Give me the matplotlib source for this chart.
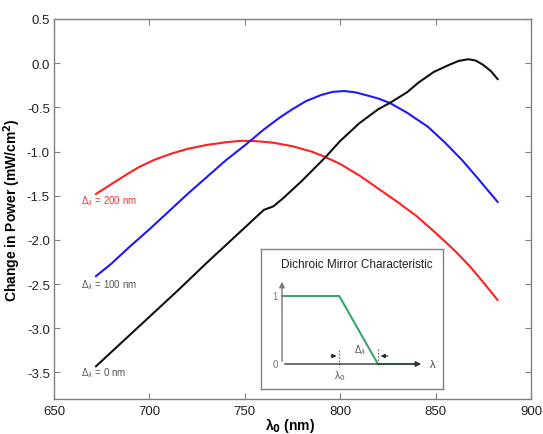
import matplotlib
matplotlib.use("Agg")
import matplotlib.pyplot as plt

# Data
wl_black = [672, 685, 700, 715, 730, 747, 760, 765, 770, 780, 792, 800, 810, 820, 826, 835, 841, 849, 857, 862, 867, 871, 875, 879, 882.5]
pw_black = [-3.43, -3.17, -2.87, -2.57, -2.26, -1.92, -1.66, -1.62, -1.53, -1.33, -1.07, -0.88, -0.68, -0.52, -0.45, -0.33, -0.22, -0.1, -0.02, 0.025, 0.045, 0.03, -0.02, -0.09, -0.18]

wl_blue = [672, 680, 690, 700, 710, 720, 730, 740, 750, 760, 768, 775, 782, 790, 796, 802, 808, 815, 820, 826, 835, 846, 855, 864, 872, 882.5]
pw_blue = [-2.41, -2.27, -2.07, -1.88, -1.68, -1.48, -1.29, -1.10, -0.93, -0.75, -0.62, -0.52, -0.43, -0.36, -0.325, -0.315, -0.33, -0.37, -0.40, -0.45, -0.56, -0.72, -0.90, -1.10, -1.30, -1.57]

wl_red = [672, 680, 688, 695, 703, 712, 720, 730, 740, 748, 756, 765, 775, 785, 792, 800, 810, 820, 830, 840, 850, 860, 868, 875, 882.5]
pw_red = [-1.48, -1.37, -1.26, -1.17, -1.09, -1.02, -0.97, -0.925, -0.895, -0.878, -0.882, -0.90, -0.94, -1.0, -1.06, -1.14, -1.27, -1.42, -1.57, -1.73, -1.92, -2.12, -2.30, -2.48, -2.68]

labels = ["= 200 nm", "= 100 nm", "= 0 nm"]
xticks = [650, 700, 750, 800, 850, 900]
yticks = [0.5, 0.0, -0.5, -1.0, -1.5, -2.0, -2.5, -3.0, -3.5]

# inset characteristic (schematic)
ins_x = [0.0, 0.4, 0.67, 0.95]
ins_y = [1.0, 1.0, 0.0, 0.0]

W, H = 543, 435
fig = plt.figure(figsize=(W / 100, H / 100), dpi=100)
plt.rcParams['font.family'] = ['Liberation Sans', 'DejaVu Sans']

def fx(px):
    return px / W

def fy(py):
    return 1 - py / H

L, R, T, B = 54, 531, 20, 400
ax = fig.add_axes([fx(L), fy(B), fx(R) - fx(L), fy(T) - fy(B)])
ax.plot(wl_red, pw_red, color='#ff2020', lw=1.5)
ax.plot(wl_blue, pw_blue, color='#1a1aff', lw=1.5)
ax.plot(wl_black, pw_black, color='#111111', lw=1.5)
ax.set_xlim(650, 900)
ax.set_ylim(-3.8, 0.5)
ax.set_xticks(xticks)
ax.set_yticks(yticks)
ax.set_xticklabels([str(v) for v in xticks])
ax.set_yticklabels([f"{v:.1f}" for v in yticks])
ax.tick_params(direction='in', top=True, right=True, length=4, color='#808080',
               labelsize=9.5, labelcolor='#222222')
ax.tick_params(axis='y', pad=3)
ax.tick_params(axis='x', pad=4)
for s in ax.spines.values():
    s.set_color('#808080')
    s.set_linewidth(1.0)
ax.set_ylabel('Change in Power (mW/cm$^\\mathbf{2}$)', fontsize=10, fontweight='bold')
ax.yaxis.set_label_coords((23 - L) / (R - L), 0.5)
ax.set_xlabel('λ$_\\mathbf{0}$ (nm)', fontsize=10, fontweight='bold')
ax.xaxis.set_label_coords((290 - L) / (R - L), -(416 - B) / (B - T))

lab_y = [-1.55, -2.50, -3.5]
lab_c = ['#ff3030', '#555555', '#555555']
for t, yv, c in zip(labels, lab_y, lab_c):
    ax.text(664, yv, 'Δ$_{λ}$ ' + t, color=c, fontsize=7, va='center', ha='left')

# inset
iL, iR, iT, iB = 261, 443, 250, 390
ia = fig.add_axes([fx(iL), fy(iB), fx(iR) - fx(iL), fy(iT) - fy(iB)])
ia.set_xlim(0, 1)
ia.set_ylim(0, 1)
ia.set_xticks([])
ia.set_yticks([])
for s in ia.spines.values():
    s.set_color('#808080')
    s.set_linewidth(1.0)

def ix(px):
    return (px - iL) / (iR - iL)

def iy(py):
    return (iB - py) / (iB - iT)

ia.text(ix(357), iy(265), 'Dichroic Mirror Characteristic', ha='center', va='center', fontsize=8.5,
        color='#222222')
x0, x1 = ix(282), ix(418)
y0, y1 = iy(365), iy(297)
ia.annotate('', xy=(x0, iy(280)), xytext=(x0, y0),
            arrowprops=dict(arrowstyle='-|>', color='#777777', lw=1, mutation_scale=8))
ia.annotate('', xy=(ix(424), y0), xytext=(x0, y0),
            arrowprops=dict(arrowstyle='-|>', color='#333333', lw=1, mutation_scale=8))
gx = [x0 + v * (x1 - x0) / 0.95 for v in ins_x]
gy = [y0 + v * (y1 - y0) for v in ins_y]
ia.plot(gx, gy, color='#3aa66a', lw=1.5)
ia.text(ix(430), y0, 'λ', fontsize=8, va='center', ha='left', color='#444444')
ia.text(ix(275), y0, '0', fontsize=7, va='center', ha='center', color='#777777')
ia.text(ix(275), y1, '1', fontsize=7, va='center', ha='center', color='#777777')
xa, xb = gx[1], gx[2]
ia.plot([xa, xa], [iy(351), iy(368)], color='#666666', lw=0.8, ls=(0, (1.5, 1.5)))
ia.plot([xb, xb], [iy(350), iy(363)], color='#666666', lw=0.8, ls=(0, (1.5, 1.5)))
ia.annotate('', xy=(xa, iy(357)), xytext=(xa - 0.06, iy(357)),
            arrowprops=dict(arrowstyle='-|>', color='#222222', lw=0.8, mutation_scale=6))
ia.annotate('', xy=(xb, iy(357)), xytext=(xb + 0.07, iy(357)),
            arrowprops=dict(arrowstyle='-|>', color='#222222', lw=0.8, mutation_scale=6))
ia.text(ix(360), iy(350), 'Δ$_{λ}$', fontsize=7, ha='center', va='center', color='#555555')
ia.text(xa, iy(376), 'λ$_0$', fontsize=7.5, ha='center', va='center', color='#555555')

fig.savefig('out.png', dpi=100)
